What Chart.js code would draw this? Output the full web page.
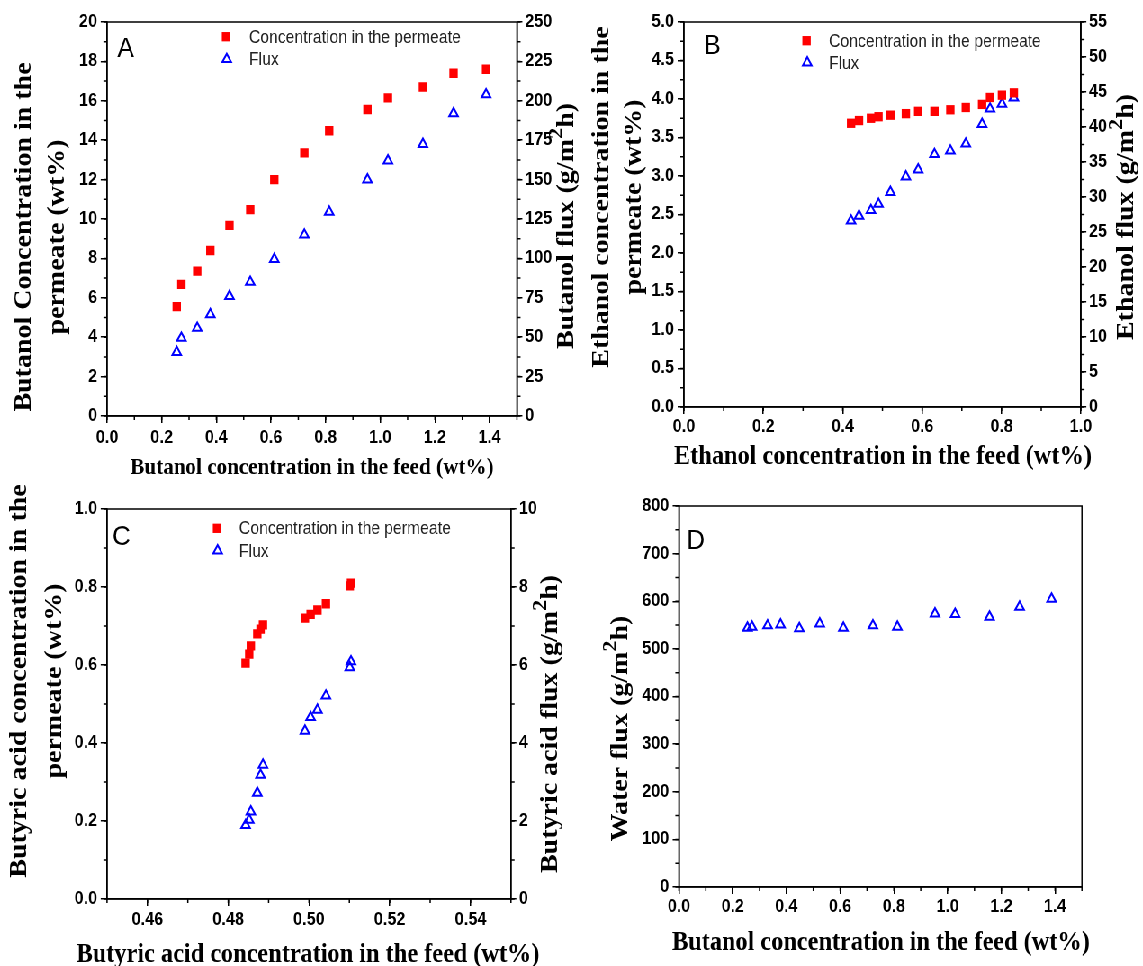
<!DOCTYPE html>
<html>
<head>
<meta charset="utf-8">
<title>Pervaporation of butanol, ethanol and butyric acid</title>
<script src="https://cdn.jsdelivr.net/npm/chart.js@4.4.1/dist/chart.umd.min.js"></script>
<style>
    html, body { margin: 0; padding: 0; background: #fff; overflow: hidden; }
    #sheet { position: absolute; left: 0; top: 0; width: 1270px; height: 966px;
             transform: scaleX(0.9); transform-origin: 0 0; }
    .panel { position: absolute; }
</style>
</head>
<body>
<div id="sheet">
    <div class="panel" id="panelA"><canvas id="chartA"></canvas></div>
    <div class="panel" id="panelB"><canvas id="chartB"></canvas></div>
    <div class="panel" id="panelC"><canvas id="chartC"></canvas></div>
    <div class="panel" id="panelD"><canvas id="chartD"></canvas></div>
</div>
<script>
"use strict";

// Butanol runs (A and D share the feed concentrations)
const butanolFeed = [0.255, 0.272, 0.330, 0.378, 0.448, 0.524, 0.612, 0.722, 0.813, 0.953, 1.028, 1.156, 1.268, 1.387];
const butanolPermeate = [5.55, 6.68, 7.35, 8.40, 9.68, 10.48, 12.00, 13.36, 14.48, 15.56, 16.15, 16.70, 17.40, 17.60];
const butanolFlux = [40.5, 49.5, 55.8, 64.5, 76.0, 85.0, 99.5, 115.0, 129.5, 150.0, 162.0, 172.5, 192.0, 204.0];
const waterFlux = [544, 546, 549, 551, 543, 553, 544, 549, 546, 574, 573, 567, 588, 605];

// Ethanol runs
const ethanolFeed = [0.421, 0.441, 0.471, 0.490, 0.520, 0.559, 0.590, 0.631, 0.671, 0.710, 0.751, 0.771, 0.801, 0.831];
const ethanolPermeate = [3.685, 3.72, 3.75, 3.77, 3.79, 3.81, 3.84, 3.84, 3.86, 3.89, 3.93, 4.02, 4.05, 4.08];
const ethanolFlux = [26.6, 27.3, 28.1, 29.0, 30.7, 32.9, 33.9, 36.1, 36.6, 37.6, 40.4, 42.6, 43.3, 44.2];

// Butyric acid runs
const butyricFeed = [0.4843, 0.4852, 0.4856, 0.4872, 0.4880, 0.4886, 0.4990, 0.5004, 0.5021, 0.5042, 0.5101, 0.5104];
const butyricPermeate = [0.605, 0.628, 0.649, 0.680, 0.692, 0.703, 0.720, 0.730, 0.741, 0.757, 0.803, 0.810];
const butyricFlux = [1.89, 2.03, 2.24, 2.72, 3.18, 3.44, 4.31, 4.66, 4.85, 5.21, 5.94, 6.09];

// Tick labels
const ticksFeedButanol = [0, 0.2, 0.4, 0.6, 0.8, 1.0, 1.2, 1.4];
const ticksFeedEthanol = [0, 0.2, 0.4, 0.6, 0.8, 1.0];
const ticksFeedButyric = [0.46, 0.48, 0.50, 0.52, 0.54];
const ticksPermButanol = [0, 2, 4, 6, 8, 10, 12, 14, 16, 18, 20];
const ticksPermEthanol = [0, 0.5, 1.0, 1.5, 2.0, 2.5, 3.0, 3.5, 4.0, 4.5, 5.0];
const ticksPermButyric = [0, 0.2, 0.4, 0.6, 0.8, 1.0];
const ticksFluxButanol = [0, 25, 50, 75, 100, 125, 150, 175, 200, 225, 250];
const ticksFluxEthanol = [0, 5, 10, 15, 20, 25, 30, 35, 40, 45, 50, 55];
const ticksFluxButyric = [0, 2, 4, 6, 8, 10];
const ticksWaterFlux = [0, 100, 200, 300, 400, 500, 600, 700, 800];

const LEGEND_PERMEATE = "Concentration in the permeate";
const LEGEND_FLUX = "Flux";

const S = 0.9;  // the sheet is drawn wide and squeezed horizontally
const RED = "#ff0000";
const BLUE = "#0000ff";
const tickFont = { family: "Liberation Sans", weight: "bold", size: 18 };

function points(xs, ys) {
    return xs.map((x, i) => ({ x: x, y: ys[i] }));
}

function squares(xs, ys, axisId) {
    return {
        label: LEGEND_PERMEATE,
        data: points(xs, ys),
        yAxisID: axisId,
        pointStyle: "rect",
        pointRadius: 6.6,
        pointBorderWidth: 0,
        backgroundColor: RED,
        borderColor: RED,
    };
}

function triangles(xs, ys, axisId) {
    return {
        label: LEGEND_FLUX,
        data: points(xs, ys),
        yAxisID: axisId,
        pointStyle: "triangle",
        pointRadius: 5.6,
        pointBorderWidth: 2,
        backgroundColor: "rgba(0,0,0,0)",
        borderColor: BLUE,
    };
}

/**
 * Minor tick marks, drawn half way between the labelled ones
 */
const minorTicks = {
    id: "minorTicks",
    afterDraw(chart, args, opts) {
        const ctx = chart.ctx;
        ctx.save();
        ctx.strokeStyle = "#000";
        ctx.lineWidth = 1.5;
        ctx.beginPath();
        Object.entries(opts.steps || {}).forEach(([id, step]) => {
            const s = chart.scales[id];
            const len = 4;
            for (let k = Math.ceil(s.min / step - 1e-6); k * step <= s.max + 1e-9; k++) {
                const p = s.getPixelForValue(k * step);
                if (s.isHorizontal()) {
                    ctx.moveTo(p, s.top);
                    ctx.lineTo(p, s.top + len);
                } else if (s.position === "left") {
                    ctx.moveTo(s.right, p);
                    ctx.lineTo(s.right - len, p);
                } else {
                    ctx.moveTo(s.left, p);
                    ctx.lineTo(s.left + len, p);
                }
            }
        });
        ctx.stroke();
        ctx.restore();
    },
};

// closes the box on the top (and right when there is no second axis)
const frame = {
    id: "frame",
    afterDraw(chart) {
        const { ctx, chartArea: a } = chart;
        ctx.save();
        ctx.strokeStyle = "#000";
        ctx.lineWidth = 1.5;
        ctx.strokeRect(a.left, a.top, a.right - a.left, a.bottom - a.top);
        ctx.restore();
    },
};

// "^" marks the next character as a superscript
function richParts(text) {
    const out = [];
    text.split("^").forEach((chunk, i) => {
        if (i === 0) {
            if (chunk) out.push({ t: chunk, sup: false });
            return;
        }
        out.push({ t: chunk[0], sup: true });
        if (chunk.length > 1) out.push({ t: chunk.slice(1), sup: false });
    });
    return out;
}

function drawRich(ctx, text, size, family, weight) {
    const parts = richParts(text);
    const fontFor = (p) => `${weight} ${p.sup ? size * 0.8 : size}px ${family}`;
    let total = 0;
    parts.forEach((p) => {
        ctx.font = fontFor(p);
        p.w = ctx.measureText(p.t).width;
        total += p.w;
    });
    let x = -total / 2;
    ctx.textAlign = "left";
    ctx.textBaseline = "middle";
    parts.forEach((p) => {
        ctx.font = fontFor(p);
        ctx.fillText(p.t, x, p.sup ? -size * 0.38 : 0);
        x += p.w;
    });
}

/**
 * Axis titles, the panel letter and the legend, placed by hand
 */
const decorations = {
    id: "decorations",
    afterDraw(chart, args, opts) {
        const ctx = chart.ctx;
        ctx.save();
        ctx.fillStyle = "#000";

        (opts.titles || []).forEach((t) => {
            const lines = t.lines || [t.text];
            ctx.save();
            ctx.translate(t.x, t.y);
            if (t.vertical) ctx.rotate(-Math.PI / 2);
            lines.forEach((line, i) => {
                ctx.save();
                ctx.translate(0, (i - (lines.length - 1) / 2) * (t.gap || 0));
                drawRich(ctx, line, t.size, '"Liberation Serif"', "bold");
                ctx.restore();
            });
            ctx.restore();
        });

        if (opts.letter) {
            ctx.font = '28px "Liberation Sans"';
            ctx.textAlign = "center";
            ctx.textBaseline = "middle";
            ctx.fillText(opts.letter.text, opts.letter.x, opts.letter.y);
        }

        (opts.legend || []).forEach((item) => {
            const ds = chart.data.datasets[item.dataset];
            ctx.fillStyle = ds.backgroundColor;
            ctx.strokeStyle = ds.borderColor;
            ctx.lineWidth = ds.pointBorderWidth;
            Chart.helpers.drawPoint(ctx, {
                pointStyle: ds.pointStyle,
                radius: ds.pointRadius,
                borderWidth: ds.pointBorderWidth,
                rotation: 0,
            }, item.x, item.y);
            ctx.fillStyle = "#222";
            ctx.font = '17.5px "Liberation Sans"';
            ctx.textAlign = "left";
            ctx.textBaseline = "middle";
            ctx.fillText(ds.label, item.textX, item.y + 1);
        });
        ctx.restore();
    },
};

function axis(spec, position, fit) {
    return {
        type: "linear",
        position: position,
        min: spec.min,
        max: spec.max,
        afterBuildTicks: (s) => {
            s.ticks = spec.ticks.map((v) => ({ value: v }));
        },
        afterFit: fit,
        grid: {
            drawOnChartArea: false,
            color: "#000",
            lineWidth: 1.5,
            tickLength: spec.tickLength || 7,
        },
        border: { display: true, color: "#000", width: 1.5 },
        ticks: {
            autoSkip: false,
            maxRotation: 0,
            padding: spec.pad,
            color: "#000",
            font: tickFont,
            callback: (v) => Number(v).toFixed(spec.dp),
        },
    };
}

function buildPanel(p) {
    const holder = document.getElementById(p.holder);
    const f = p.frame;
    holder.style.left = f.left + "px";
    holder.style.top = f.top + "px";
    holder.style.width = f.width + "px";
    holder.style.height = f.height + "px";

    // plot box in local canvas pixels
    const L = p.plot.l / S - f.left;
    const R = p.plot.r / S - f.left;
    const T = p.plot.t - f.top;
    const B = p.plot.b - f.top;
    const lx = (x) => x / S - f.left;
    const ly = (y) => y - f.top;

    const scales = {
        x: axis(p.x, "bottom", (s) => { s.height = f.height - B; }),
        y: axis(p.y, "left", (s) => { s.width = L; }),
    };
    if (p.y2) scales.y2 = axis(p.y2, "right", (s) => { s.width = f.width - R; });

    const steps = { x: p.x.minor, y: p.y.minor };
    if (p.y2) steps.y2 = p.y2.minor;

    const titles = p.titles.map((t) => Object.assign({}, t, {
        x: lx(t.x),
        y: ly(t.y),
        gap: t.gap ? t.gap / S : 0,
    }));
    const legend = (p.legend || []).map((it) => ({
        dataset: it.dataset,
        x: lx(it.x),
        y: ly(it.y),
        textX: lx(it.textX),
    }));

    return new Chart(document.getElementById(p.canvas), {
        type: "scatter",
        data: { datasets: p.datasets },
        plugins: [minorTicks, frame, decorations],
        options: {
            responsive: true,
            maintainAspectRatio: false,
            animation: false,
            layout: { padding: { top: T, left: 0, right: p.y2 ? 0 : f.width - R, bottom: 0 } },
            scales: scales,
            plugins: {
                legend: { display: false },
                tooltip: { enabled: false },
                minorTicks: { steps: steps },
                decorations: {
                    titles: titles,
                    letter: { text: p.letter.text, x: lx(p.letter.x), y: ly(p.letter.y) },
                    legend: legend,
                },
            },
        },
    });
}

document.addEventListener("DOMContentLoaded", () => {
    const left = { left: 0, top: 0, width: 644, height: 483 };
    const right = { left: 644, top: 0, width: 626, height: 483 };
    const lowLeft = { left: 0, top: 483, width: 644, height: 483 };
    const lowRight = { left: 644, top: 483, width: 626, height: 483 };

    buildPanel({
        holder: "panelA", canvas: "chartA", frame: left,
        plot: { l: 107, r: 517, t: 22, b: 416 },
        x: { min: 0, max: 1.5, ticks: ticksFeedButanol, dp: 1, minor: 0.1, pad: 4 },
        y: { min: 0, max: 20, ticks: ticksPermButanol, dp: 0, minor: 1, pad: 4 },
        y2: { min: 0, max: 250, ticks: ticksFluxButanol, dp: 0, minor: 12.5, pad: 3, tickLength: 6 },
        datasets: [
            squares(butanolFeed, butanolPermeate, "y"),
            triangles(butanolFeed, butanolFlux, "y2"),
        ],
        titles: [
            { text: "Butanol concentration in the feed (wt%)", x: 312, y: 468, size: 23.5 },
            { lines: ["Butanol Concentration in the", "permeate (wt%)"], x: 40.5, y: 237, gap: 33, size: 28, vertical: true },
            { text: "Butanol flux (g/m^2h)", x: 567, y: 226, size: 28, vertical: true },
        ],
        letter: { text: "A", x: 125.7, y: 49.3 },
        legend: [
            { dataset: 0, x: 226, y: 36.7, textX: 249 },
            { dataset: 1, x: 226.7, y: 59.3, textX: 249 },
        ],
    });

    buildPanel({
        holder: "panelB", canvas: "chartB", frame: right,
        plot: { l: 684, r: 1081, t: 22, b: 407 },
        x: { min: 0, max: 1.0, ticks: ticksFeedEthanol, dp: 1, minor: 0.1, pad: 2.5 },
        y: { min: 0, max: 5, ticks: ticksPermEthanol, dp: 1, minor: 0.25, pad: 4 },
        y2: { min: 0, max: 55, ticks: ticksFluxEthanol, dp: 0, minor: 2.5, pad: 3, tickLength: 6 },
        datasets: [
            squares(ethanolFeed, ethanolPermeate, "y"),
            triangles(ethanolFeed, ethanolFlux, "y2"),
        ],
        titles: [
            { text: "Ethanol concentration in the feed (wt%)", x: 883, y: 457, size: 27 },
            { lines: ["Ethanol concentration in the", "permeate (wt%)"], x: 618, y: 197, gap: 32.4, size: 28, vertical: true },
            { text: "Ethanol flux (g/m^2h)", x: 1127, y: 217, size: 28, vertical: true },
        ],
        letter: { text: "B", x: 712.4, y: 46 },
        legend: [
            { dataset: 0, x: 806.6, y: 40.7, textX: 829 },
            { dataset: 1, x: 807.3, y: 62.7, textX: 829 },
        ],
    });

    buildPanel({
        holder: "panelC", canvas: "chartC", frame: lowLeft,
        plot: { l: 107, r: 511, t: 509, b: 899 },
        x: { min: 0.45, max: 0.55, ticks: ticksFeedButyric, dp: 2, minor: 0.01, pad: 3.5 },
        y: { min: 0, max: 1, ticks: ticksPermButyric, dp: 1, minor: 0.1, pad: 4 },
        y2: { min: 0, max: 10, ticks: ticksFluxButyric, dp: 0, minor: 1, pad: 3, tickLength: 6 },
        datasets: [
            squares(butyricFeed, butyricPermeate, "y"),
            triangles(butyricFeed, butyricFlux, "y2"),
        ],
        titles: [
            { text: "Butyric acid concentration in the feed (wt%)", x: 308, y: 955, size: 27 },
            { lines: ["Butyric acid concentration in the", "permeate (wt%)"], x: 37.5, y: 681, gap: 35, size: 28, vertical: true },
            { text: "Butyric acid flux (g/m^2h)", x: 551, y: 724, size: 28, vertical: true },
        ],
        letter: { text: "C", x: 121.3, y: 537.3 },
        legend: [
            { dataset: 0, x: 217, y: 528.3, textX: 239 },
            { dataset: 1, x: 217.6, y: 550.7, textX: 239 },
        ],
    });

    buildPanel({
        holder: "panelD", canvas: "chartD", frame: lowRight,
        plot: { l: 679, r: 1082, t: 506, b: 887 },
        x: { min: 0, max: 1.5, ticks: ticksFeedButanol, dp: 1, minor: 0.1, pad: 2 },
        y: { min: 0, max: 800, ticks: ticksWaterFlux, dp: 0, minor: 50, pad: 4 },
        datasets: [
            triangles(butanolFeed, waterFlux, "y"),
        ],
        titles: [
            { text: "Butanol concentration in the feed (wt%)", x: 881, y: 943, size: 27 },
            { text: "Water flux (g/m^2h)", x: 621, y: 728.5, size: 28, vertical: true },
        ],
        letter: { text: "D", x: 695.8, y: 541.7 },
    });
});
</script>
</body>
</html>
